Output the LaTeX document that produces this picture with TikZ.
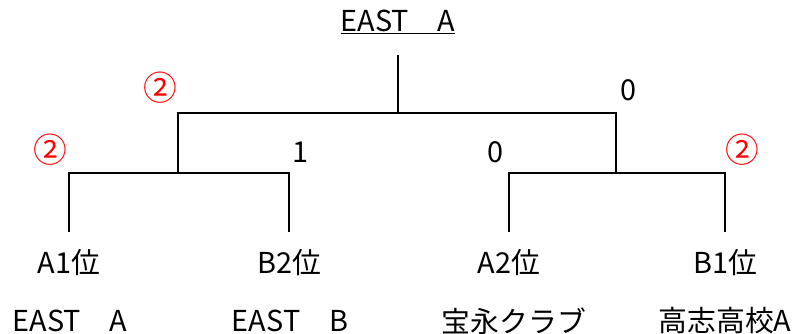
\documentclass[tikz,border=0pt]{standalone}
\usepackage{fontspec}
\setmainfont{Noto Sans CJK JP}
\tikzset{
  lbl/.style={font=\fontsize{20.5}{24}\selectfont, inner sep=0pt},
  win/.style={font=\fontsize{24}{28}\selectfont, inner sep=0pt, red},
  bracket/.style={line width=1.4pt},
}
\begin{document}
\begin{tikzpicture}[x=0.025cm, y=-0.025cm]
        \useasboundingbox (0,0) rectangle (796,334);
        % bracket points
        \coordinate (top) at (398,55);
        \coordinate (root) at (398,113);
        \coordinate (semL) at (178,173);
        \coordinate (semR) at (616,173);
        \coordinate (a1) at (69,232);
        \coordinate (b2) at (289,232);
        \coordinate (a2) at (509,232);
        \coordinate (b1) at (725,232);
        \draw[bracket] (top) -- (root);
        \draw[bracket] (semL) |- (root) -| (semR);
        \draw[bracket] (a1) |- (semL) -| (b2);
        \draw[bracket] (a2) |- (semR) -| (b1);
        % champion
        \node[lbl] (champ) at (398,22) {\underline{EAST　A}};
        % scores
        \node[win] (sL) at (160,88) {②};
        \node[lbl] (sR) at (628,90) {0};
        \node[win] (sA1) at (50,150) {②};
        \node[lbl] (sB2) at (300,152) {1};
        \node[lbl] (sA2) at (495,152) {0};
        \node[win] (sB1) at (742,150) {②};
        % seeds
        \node[lbl] (pA1) at (69,263) {A1位};
        \node[lbl] (pB2) at (289,263) {B2位};
        \node[lbl] (pA2) at (509,263) {A2位};
        \node[lbl] (pB1) at (725,263) {B1位};
        % teams
        \node[lbl] (tA1) at (70,321) {EAST　A};
        \node[lbl] (tB2) at (290,321) {EAST　B};
        \node[lbl] (tA2) at (514,321) {宝永クラブ};
        \node[lbl] (tB1) at (725,321) {高志高校A};
\end{tikzpicture}
\end{document}
